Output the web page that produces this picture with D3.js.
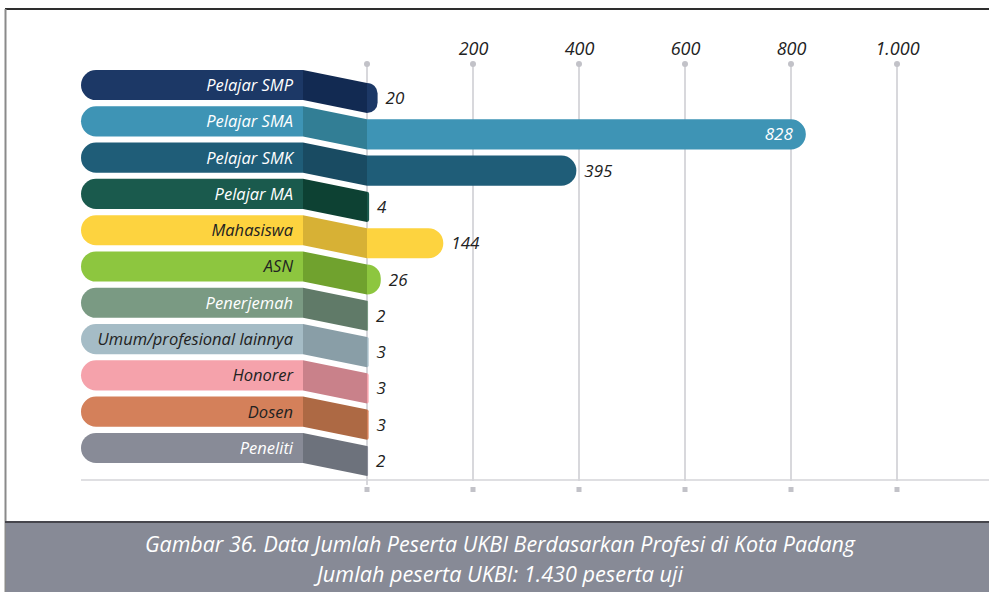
<!DOCTYPE html>
<html>
<head>
<meta charset="utf-8">
<script src="https://cdn.jsdelivr.net/npm/d3@7"></script>
<style>
  body { margin: 0; background: #fff; }
  svg text { font-family: "Open Sans", "Noto Sans", sans-serif; font-style: italic; }
</style>
</head>
<body>
<script>
// data
var categories = ["Pelajar SMP", "Pelajar SMA", "Pelajar SMK", "Pelajar MA", "Mahasiswa", "ASN",
    "Penerjemah", "Umum/profesional lainnya", "Honorer", "Dosen", "Peneliti"];
var values = [20, 828, 395, 4, 144, 26, 2, 3, 3, 3, 2];
var tickValues = [0, 200, 400, 600, 800, 1000];
var tickLabels = ["", "200", "400", "600", "800", "1.000"];
var captionLines = ["Gambar 36. Data Jumlah Peserta UKBI Berdasarkan Profesi di Kota Padang",
    "Jumlah peserta UKBI: 1.430 peserta uji"];

// colours: pill/bar colour, darker connector colour, label colour
var barColors = ["#1c3866", "#3e94b5", "#1f5d78", "#1a5a4d", "#fdd33f", "#8dc63f",
    "#7a9a83", "#a5bcc6", "#f5a2ab", "#d4805a", "#888b97"];
var darkColors = ["#122a52", "#327e95", "#194b62", "#0d4133", "#d7b135", "#70a22e",
    "#607a68", "#899ea7", "#c9818a", "#ad6944", "#6d727c"];
var labelColors = ["#fff", "#fff", "#fff", "#fff", "#222", "#222",
    "#fff", "#222", "#222", "#222", "#fff"];

var W = 989, H = 592;
var svg = d3.select("body").append("svg")
    .attr("width", W)
    .attr("height", H);

// frame
svg.append("rect").attr("x", 5).attr("y", 9).attr("width", W).attr("height", 514).attr("fill", "#fff");
svg.append("line").attr("x1", 5).attr("y1", 9).attr("x2", W).attr("y2", 9)
    .attr("stroke", "#2e2e2e").attr("stroke-width", 2);
svg.append("line").attr("x1", 5.5).attr("y1", 9).attr("x2", 5.5).attr("y2", 592)
    .attr("stroke", "#8a8a8a").attr("stroke-width", 2);

// scales
var x = d3.scaleLinear().domain([0, 1000]).range([367, 897]);
var y = d3.scaleBand().domain(categories).range([70, 463]).paddingInner(0.17).paddingOuter(0);
var bh = y.bandwidth();
var pillLeft = 81, pillRight = 303, drop = 13;

// grid lines
var grid = svg.append("g");
tickValues.forEach(function(t) {
    grid.append("line")
        .attr("x1", x(t)).attr("x2", x(t))
        .attr("y1", 64).attr("y2", t == 0 ? 485 : 481)
        .attr("stroke", "#cfcfd4").attr("stroke-width", 1.6);
    grid.append("circle")
        .attr("cx", x(t)).attr("cy", 64).attr("r", 3)
        .attr("fill", "#c2c2c8");
    grid.append("rect")
        .attr("x", x(t) - 2.5).attr("y", 487).attr("width", 5).attr("height", 5)
        .attr("fill", "#c2c2c8");
});
grid.append("line")
    .attr("x1", pillLeft).attr("x2", W)
    .attr("y1", 480).attr("y2", 480)
    .attr("stroke", "#d4d4d8").attr("stroke-width", 1.6);

// tick labels on top
var axis = d3.axisTop(x)
    .tickValues(tickValues.slice(1))
    .tickSize(0)
    .tickPadding(0)
    .tickFormat(function(d) { return tickLabels[tickValues.indexOf(d)]; });
var ax = svg.append("g")
    .attr("transform", "translate(0,55)")
    .call(axis);
ax.select(".domain").remove();
ax.selectAll("text")
    .attr("font-size", 18)
    .attr("fill", "#222")
    .style("font-family", "'Open Sans', sans-serif")
    .style("font-style", "italic");

// bar with rounded right end
function barPath(x0, y0, w, h) {
    var r = Math.min(h / 2, w);
    return "M" + x0 + "," + y0 +
        "H" + (x0 + w - r) +
        "A" + r + "," + r + " 0 0 1 " + (x0 + w) + "," + (y0 + r) +
        "V" + (y0 + h - r) +
        "A" + r + "," + r + " 0 0 1 " + (x0 + w - r) + "," + (y0 + h) +
        "H" + x0 + "Z";
}

var rows = svg.append("g");
categories.forEach(function(c, i) {
    var y0 = y(c);
    var v = values[i];
    var g = rows.append("g");

    // label pill (rounded left end)
    var r = bh / 2;
    g.append("path")
        .attr("d", "M" + pillRight + "," + y0 + "H" + (pillLeft + r) +
            "A" + r + "," + r + " 0 0 0 " + (pillLeft + r) + "," + (y0 + bh) +
            "H" + pillRight + "Z")
        .attr("fill", barColors[i]);

    // slanted connector
    g.append("path")
        .attr("d", "M" + pillRight + "," + y0 + "L" + x(0) + "," + (y0 + drop) +
            "L" + x(0) + "," + (y0 + drop + bh) + "L" + pillRight + "," + (y0 + bh) + "Z")
        .attr("fill", darkColors[i]);

    // value bar
    var w = Math.max(x(v) - x(0), 1);
    g.append("path")
        .attr("d", barPath(x(0), y0 + drop, w, bh))
        .attr("fill", barColors[i]);

    // category label
    g.append("text")
        .attr("x", pillRight - 10)
        .attr("y", y0 + bh / 2)
        .attr("dy", "0.36em")
        .attr("text-anchor", "end")
        .attr("font-size", 16.5)
        .attr("fill", labelColors[i])
        .text(c);

    // value label
    var inside = v > 700;
    g.append("text")
        .attr("x", inside ? x(v) - 13 : x(0) + w + 8)
        .attr("y", y0 + drop + bh / 2)
        .attr("dy", "0.36em")
        .attr("text-anchor", inside ? "end" : "start")
        .attr("font-size", 17)
        .attr("fill", inside ? "#fff" : "#222")
        .text(v);
});

// caption band
svg.append("rect")
    .attr("x", 6).attr("y", 522).attr("width", W).attr("height", 70)
    .attr("fill", "#878a96");
svg.append("line").attr("x1", 5).attr("y1", 522).attr("x2", W).attr("y2", 522)
    .attr("stroke", "#45454c").attr("stroke-width", 2);

svg.selectAll(".caption")
    .data(captionLines)
    .enter()
    .append("text")
        .attr("class", "caption")
        .attr("x", 500)
        .attr("y", function(d, i) { return 552 + i * 30; })
        .attr("text-anchor", "middle")
        .attr("font-size", 21)
        .attr("fill", "#fff")
        .attr("textLength", function(d, i) { return i == 0 ? 710 : 366; })
        .attr("lengthAdjust", "spacingAndGlyphs")
        .text(function(d) { return d; });
</script>
</body>
</html>
